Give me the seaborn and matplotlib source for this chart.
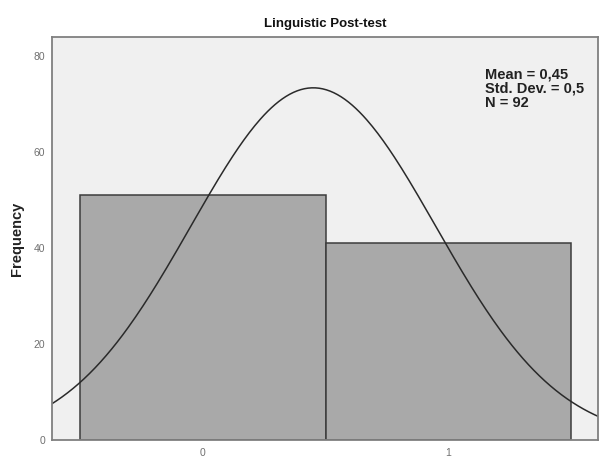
import numpy as np
import pandas as pd
import matplotlib
matplotlib.use("Agg")
import matplotlib.pyplot as plt
import seaborn as sns

# Histogram of post-test scores (SPSS style)
categories = [0, 1]
counts = [51, 41]
mean_val = 0.45
sd_val = 0.5
n_total = 92
y_ticks = [0, 20, 40, 60, 80]
x_ticks = [0, 1]

sns.set_style("white")
plt.rcParams["font.family"] = ["Liberation Sans", "DejaVu Sans"]

fig = plt.figure(figsize=(6.09, 4.67), dpi=100)
ax = fig.add_axes([0.0854, 0.0578, 0.8966, 0.863])
ax.set_facecolor("#f0f0f0")

df = pd.DataFrame({"score": categories, "n": counts})
sns.histplot(data=df, x="score", weights="n", discrete=True, ax=ax,
             color="#a9a9a9", edgecolor="#3c3c3c", linewidth=1.1, alpha=1.0)

# fitted normal curve scaled to counts (bin width 1)
xs = np.linspace(-0.62, 1.62, 300)
ys = n_total * 1.0 / (sd_val * np.sqrt(2 * np.pi)) * np.exp(-0.5 * ((xs - mean_val) / sd_val) ** 2)
sns.lineplot(x=xs, y=ys, ax=ax, color="#2a2a2a", linewidth=1.1)

ax.set_xlim(-0.616, 1.612)
ax.set_ylim(0, 84)
ax.set_xticks(x_ticks)
ax.set_yticks(y_ticks)
ax.tick_params(axis="both", labelsize=7.5, labelcolor="#707070", color="#707070",
               length=3, width=0.8, direction="out")
ax.tick_params(axis="x", pad=3)
ax.tick_params(axis="y", pad=2)
ax.set_xlabel("")
ax.set_ylabel("Frequency", fontsize=10.5, fontweight="bold", color="#222222", labelpad=7)
for side in ax.spines.values():
    side.set_color("#808080")
    side.set_linewidth(1.3)

ax.set_title("Linguistic Post-test", fontsize=9.5, fontweight="bold", color="#111111", pad=7)

ax.text(0.793, 0.925, f"Mean = {str(mean_val).replace('.', ',')}\nStd. Dev. = {str(sd_val).replace('.', ',')}\nN = {n_total}",
        transform=ax.transAxes, va="top", ha="left", fontsize=10.5, fontweight="bold",
        color="#222222", linespacing=1.03)

fig.savefig("out.png", dpi=100)
